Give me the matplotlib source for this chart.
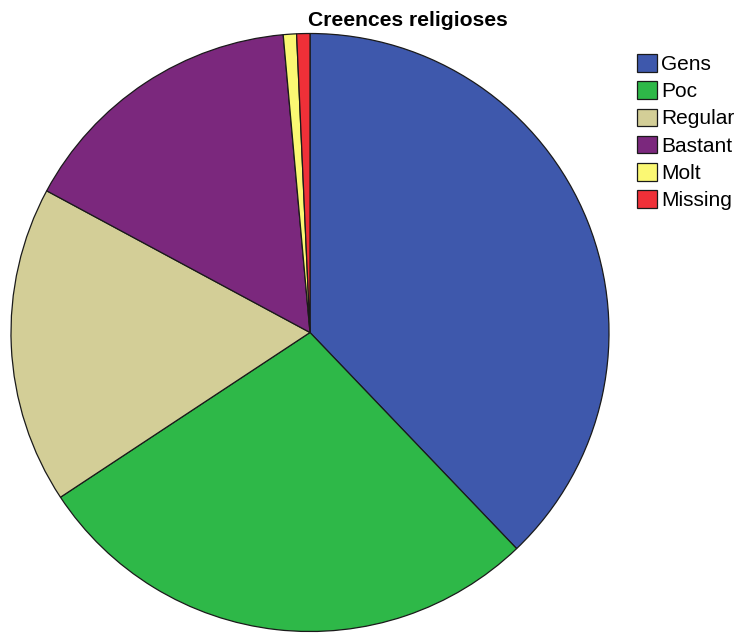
import matplotlib
matplotlib.use("Agg")
import matplotlib.pyplot as plt
from matplotlib.patches import Patch

# Religious beliefs survey responses (counts)
categories = ["Gens", "Poc", "Regular", "Bastant", "Molt", "Missing"]
counts = [53, 39, 24, 22, 1, 1]
colors = ["#3E58AC", "#2EB848", "#D3CE97", "#7B287D", "#FBF873", "#EF3038"]
title = "Creences religioses"

W, H, DPI = 735, 633, 100
fig = plt.figure(figsize=(W / DPI, H / DPI), dpi=DPI)
fig.patch.set_facecolor("white")

# Pie area: centre and radius in pixels
cx, cy, r = 310, 332.5, 299
ax = fig.add_axes([(cx - r) / W, (H - cy - r) / H, 2 * r / W, 2 * r / H])
ax.pie(counts, colors=colors, startangle=90, counterclock=False,
       radius=1.0, wedgeprops=dict(edgecolor="#1a1a1a", linewidth=0.9))
ax.set_xlim(-1.0, 1.0)
ax.set_ylim(-1.0, 1.0)
ax.set_aspect("equal")
ax.axis("off")

fig.text(408 / W, 1 - 20.5 / H, title, ha="center", va="center",
         fontsize=15.2, fontweight="bold", family="Liberation Sans")

handles = [Patch(facecolor=c, edgecolor="#1a1a1a", linewidth=0.9) for c in colors]
fig.legend(handles, categories, loc="upper left",
           bbox_to_anchor=(637 / W, 1 - 54 / H), frameon=False,
           prop=dict(family="Liberation Sans", size=15),
           handlelength=0.95, handleheight=0.92, handletextpad=0.2,
           labelspacing=0.35, borderpad=0.0, borderaxespad=0.0)

fig.savefig("out.png", dpi=DPI, facecolor="white")
